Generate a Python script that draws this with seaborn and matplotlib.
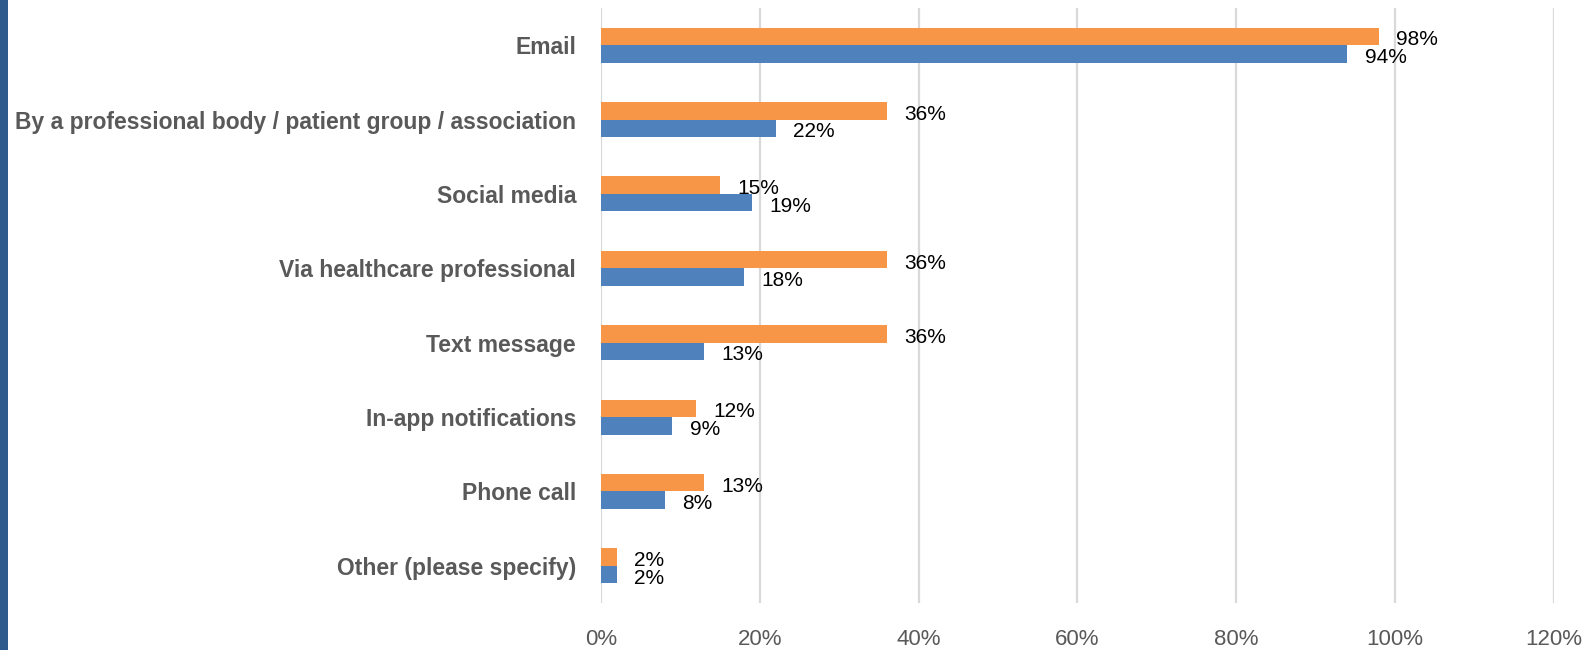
import matplotlib
matplotlib.use("Agg")
import matplotlib.pyplot as plt
from matplotlib.patches import Rectangle
from matplotlib.ticker import FuncFormatter, MultipleLocator
import pandas as pd
import seaborn as sns

# Channels and the share of respondents for each of the two groups
channels = [
    "Email",
    "By a professional body / patient group / association",
    "Social media",
    "Via healthcare professional",
    "Text message",
    "In-app notifications",
    "Phone call",
    "Other (please specify)",
]
group_a = [98, 36, 15, 36, 36, 12, 13, 2]   # orange bars (upper)
group_b = [94, 22, 19, 18, 13, 9, 8, 2]     # blue bars (lower)
series_names = ["Group A", "Group B"]
x_ticks = [0, 20, 40, 60, 80, 100, 120]

ORANGE = "#F79646"
BLUE = "#4F81BD"
GREY_TEXT = "#595959"
GRID = "#D9D9D9"

df = pd.DataFrame({
    "channel": channels * 2,
    "share": group_a + group_b,
    "series": [series_names[0]] * len(channels) + [series_names[1]] * len(channels),
})

sns.set_theme(style="white")
plt.rcParams["font.family"] = ["Liberation Sans", "DejaVu Sans"]

fig = plt.figure(figsize=(15.85, 6.5), dpi=100)
ax = fig.add_axes([0.3792, 0.0723, 0.6010, 0.9154])

sns.barplot(
    data=df, y="channel", x="share", hue="series", order=channels,
    hue_order=series_names, palette=[ORANGE, BLUE], orient="h",
    width=0.47, saturation=1, linewidth=0, legend=False, ax=ax,
)

ax.set_xlim(x_ticks[0], x_ticks[-1])
ax.set_ylim(len(channels) - 0.5, -0.5)
ax.xaxis.set_major_locator(MultipleLocator(20))
ax.xaxis.set_major_formatter(FuncFormatter(lambda v, _: f"{v:.0f}%"))
ax.grid(axis="x", color=GRID, linewidth=1.6)
ax.grid(axis="y", visible=False)
ax.set_axisbelow(True)
for side in ax.spines.values():
    side.set_visible(False)
ax.set_xlabel("")
ax.set_ylabel("")

ax.tick_params(axis="x", length=0, pad=19, labelsize=16, labelcolor=GREY_TEXT)
ax.tick_params(axis="y", length=0, pad=18, labelsize=16.5, labelcolor=GREY_TEXT)
for lbl in ax.get_yticklabels():
    lbl.set_fontweight("bold")

# value labels just past the end of each bar
for container, values in zip(ax.containers, [group_a, group_b]):
    for bar, v in zip(container.patches, values):
        y = bar.get_y() + bar.get_height() / 2
        ax.annotate(
            f"{v}%", xy=(bar.get_width(), y), xytext=(12.5, -2.5),
            textcoords="offset points", ha="left", va="center",
            fontsize=15, color="black",
        )

# dark strip along the left edge
fig.patches.append(Rectangle((0, 0), 8 / 1585, 1, transform=fig.transFigure,
                             facecolor="#2F5B8C", edgecolor="none"))

fig.savefig("out.png", dpi=100)
